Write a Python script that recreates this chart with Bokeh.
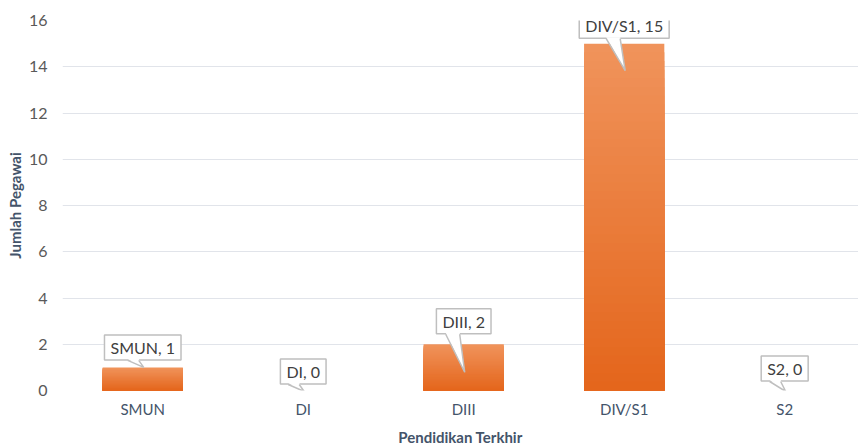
from bokeh.plotting import figure
from bokeh.models import Range1d, FixedTicker
from bokeh.core.properties import value
from bokeh.embed import file_html
from bokeh.resources import INLINE

categories = ["SMUN", "DI", "DIII", "DIV/S1", "S2"]
counts = [1, 0, 2, 15, 0]
y_ticks = [0, 2, 4, 6, 8, 10, 12, 14, 16]

# label layout (px): box centre above bar top, pointer tip below bar top
box_lift = [20, 19, 23, 18, 22]
tip_drop = [0, 1, 28, 27, 1]

FW, FH = 796, 370
X0, X1 = -0.5, 4.46
Y0, Y1 = 0, 16
sx = (X1 - X0) / FW
sy = (Y1 - Y0) / FH
FONT = "Lato"

p = figure(width=858, height=448,
           x_range=Range1d(X0, X1), y_range=Range1d(Y0, Y1),
           output_backend="svg", toolbar_location=None,
           min_border_left=62, min_border_top=20, min_border_right=0, min_border_bottom=58)
p.outline_line_color = None
p.background_fill_color = "white"

# gradient bars: overlapping layers from full height down (lighter on top)
N = 40
def lerp(c1, c2, t):
    a = [int(c1[i:i+2], 16) for i in (1, 3, 5)]
    b = [int(c2[i:i+2], 16) for i in (1, 3, 5)]
    return "#%02x%02x%02x" % tuple(round(a[k] + (b[k] - a[k]) * t) for k in range(3))

xs, tops, cols = [], [], []
for k in range(N):
    for i, v in enumerate(counts):
        if v <= 0:
            continue
        xs.append(i)
        tops.append(v * (N - k) / N)
        cols.append(lerp("#f0935b", "#e4661c", k / (N - 1)))
p.vbar(x=xs, top=tops, bottom=0, width=0.5, fill_color=cols, line_color=None)

# callouts
idx = list(range(len(categories)))
labels = [f"{c}, {v}" for c, v in zip(categories, counts)]
cy = [v + box_lift[i] * sy for i, v in enumerate(counts)]
half_h = 13
px_list, py_list, lx, ly = [], [], [], []
for i, v in enumerate(counts):
    bottom = cy[i] - half_h * sy
    tipx = i + 1 * sx
    tipy = v - tip_drop[i] * sy
    bl = i - (18 if tip_drop[i] > 10 else 15) * sx
    br = i - 4 * sx
    px_list.append([bl, br, tipx])
    py_list.append([bottom + 1.5 * sy, bottom + 1.5 * sy, tipy])
    lx.append([bl, tipx, br])
    ly.append([bottom, tipy, bottom])

p.text(x=idx, y=cy, text=labels, text_align="center", text_baseline="middle",
       text_font=value(FONT), text_font_size="16px", text_color="#404040",
       background_fill_color="white", border_line_color="#bfbfbf", border_line_width=1.5,
       padding=dict(left=6, right=6, top=3, bottom=3))
p.patches(xs=px_list, ys=py_list, fill_color="white", line_color=None)
p.multi_line(xs=lx, ys=ly, line_color="#bfbfbf", line_width=1.5)

# axes
p.xaxis.ticker = FixedTicker(ticks=idx)
p.xaxis.major_label_overrides = {i: c for i, c in enumerate(categories)}
p.yaxis.ticker = FixedTicker(ticks=y_ticks)
for ax in (p.xaxis[0], p.yaxis[0]):
    ax.axis_line_color = None
    ax.major_tick_line_color = None
    ax.minor_tick_line_color = None
    ax.major_tick_out = 0
    ax.major_tick_in = 0
    ax.minor_tick_out = 0
    ax.minor_tick_in = 0
    ax.major_label_text_font = FONT
    ax.major_label_text_font_size = "15px"
    ax.major_label_text_color = "#595959"
    ax.axis_label_text_font = FONT
    ax.axis_label_text_font_size = "15px"
    ax.axis_label_text_font_style = "bold"
    ax.axis_label_text_color = "#44546a"
p.yaxis.major_label_text_font_size = "16px"
p.xaxis.major_label_text_color = "#44546a"
p.xaxis.axis_label = "Pendidikan Terkhir"
p.yaxis.axis_label = "Jumlah Pegawai"
p.xaxis.major_label_standoff = 9
p.xaxis.axis_label_standoff = 7
p.yaxis.major_label_standoff = 15
p.yaxis.axis_label_standoff = 2
p.xgrid.grid_line_color = None
p.ygrid.grid_line_color = "#e1e4ea"
p.ygrid.grid_line_width = 1.2

open("out.html", "w").write(file_html(p, INLINE))
